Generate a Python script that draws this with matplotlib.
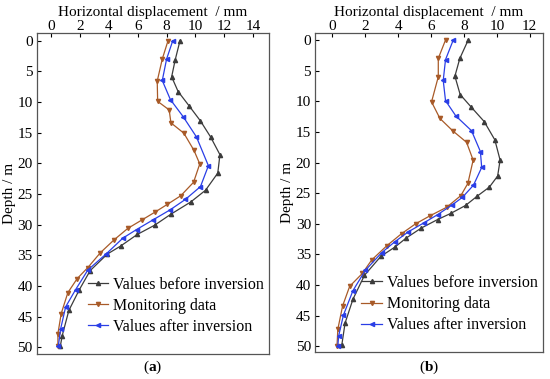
import matplotlib
matplotlib.use("Agg")
import matplotlib.pyplot as plt

# panel (a)
a_before_d = [0, 3.1, 5.9, 8.3, 10.6, 13.1, 15.7, 18.6, 21.6, 24.4, 26.3, 28.3, 30.1,
              31.6, 33.5, 34.8, 37.5, 40.6, 44.0, 48.1, 49.8]
a_before_x = [8.93, 8.6, 8.35, 8.8, 9.55, 10.35, 11.05, 11.7, 11.55, 10.7, 9.68, 8.3, 7.17,
              5.97, 4.81, 3.89, 2.7, 1.95, 1.22, 0.76, 0.63]
a_monitor_d = [0, 3.0, 6.6, 9.9, 11.3, 13.4, 15.1, 17.9, 20.1, 23.1, 25.3, 26.7, 28.0,
               29.2, 30.6, 32.5, 34.6, 37.0, 38.8, 41.1, 44.5, 47.8, 49.8]
a_monitor_x = [8.1, 7.7, 7.35, 7.38, 8.18, 8.3, 9.2, 9.9, 10.3, 9.87, 8.98, 8.05, 7.17,
               6.32, 5.32, 4.35, 3.4, 2.54, 1.8, 1.15, 0.69, 0.46, 0.46]
a_after_d = [0, 3.0, 6.5, 9.6, 12.4, 15.7, 20.4, 23.8, 25.9, 27.6, 29.2, 30.8, 32.2,
             34.8, 37.4, 40.6, 43.4, 47.0, 49.8]
a_after_x = [8.43, 8.0, 7.7, 8.26, 9.15, 10.07, 10.9, 10.35, 9.3, 8.24, 7.08, 5.92, 4.97,
             3.8, 2.54, 1.69, 1.0, 0.65, 0.49]

# panel (b)
b_before_d = [0, 3.0, 5.9, 8.9, 11.0, 13.3, 16.3, 19.6, 22.2, 24.0, 25.5, 27.0, 28.3,
              29.3, 30.7, 32.3, 33.8, 35.3, 38.4, 42.3, 46.2, 49.8]
b_before_x = [8.26, 7.75, 7.45, 7.77, 8.46, 9.23, 9.88, 10.2, 10.05, 9.55, 8.8, 8.1, 7.2,
              6.4, 5.4, 4.5, 3.8, 2.95, 1.95, 1.25, 0.77, 0.57]
b_monitor_d = [0, 3.0, 6.0, 10.1, 12.8, 14.8, 16.7, 19.6, 23.4, 25.4, 27.3, 28.7, 30.0,
               31.6, 33.6, 35.9, 38.1, 40.2, 43.4, 47.2, 49.9]
b_monitor_x = [6.88, 6.44, 6.44, 6.03, 6.54, 7.31, 8.16, 8.56, 8.24, 7.81, 6.95, 5.93, 5.06,
               4.21, 3.3, 2.39, 1.82, 1.05, 0.62, 0.33, 0.28]
b_after_d = [0, 3.2, 6.6, 9.9, 12.4, 14.8, 18.2, 20.8, 23.7, 25.7, 26.9, 28.5, 29.8,
             31.3, 32.9, 34.7, 37.6, 40.9, 44.9, 48.3, 49.9]
b_after_x = [7.35, 6.88, 6.74, 6.88, 7.51, 8.46, 9.0, 9.08, 8.58, 7.9, 7.29, 6.4, 5.59,
             4.62, 3.81, 3.0, 2.0, 1.25, 0.67, 0.38, 0.33]

labels = ["Values before inversion", "Monitoring data", "Values after inversion"]
colors = ["#3c3c3c", "#a85a28", "#2a3ee6"]
markers = ["^", "v", "<"]

plt.rcParams["font.family"] = ["Liberation Serif", "DejaVu Serif"]
plt.rcParams["mathtext.fontset"] = "custom"
plt.rcParams["mathtext.rm"] = "Liberation Serif"
plt.rcParams["mathtext.bf"] = "Liberation Serif:bold"
fs = 11

fig = plt.figure(figsize=(5.5, 3.79), dpi=100)
ax_a = fig.add_axes([0.067, 0.066, 0.422, 0.847])
ax_b = fig.add_axes([0.573, 0.070, 0.414, 0.843])

panels = [
    (ax_a, [(a_before_x, a_before_d), (a_monitor_x, a_monitor_d), (a_after_x, a_after_d)],
     (-1.0, 15.1), list(range(0, 15, 2)), (51.1, -1.25), "a"),
    (ax_b, [(b_before_x, b_before_d), (b_monitor_x, b_monitor_d), (b_after_x, b_after_d)],
     (-1.05, 12.8), list(range(0, 13, 2)), (51.0, -1.15), "b"),
]

for ax, series, xlim, xticks, ylim, tag in panels:
    for (xs, ds), lab, c, m in zip(series, labels, colors, markers):
        ax.plot(xs, ds, color=c, marker=m, markersize=3, linewidth=0.9, label=lab)
    ax.set_xlim(*xlim)
    ax.set_ylim(*ylim)
    ax.set_xticks(xticks)
    ax.set_yticks(range(0, 51, 5))
    ax.xaxis.tick_top()
    ax.xaxis.set_label_position("top")
    ax.tick_params(direction="in", labelsize=fs, length=3, width=0.8)
    ax.tick_params(axis="x", pad=0)
    ax.tick_params(axis="y", pad=3)
    ax.set_xlabel("Horizontal displacement  / mm", fontsize=fs, labelpad=3)
    ax.set_ylabel("Depth / m", fontsize=fs, labelpad=1)
    for s in ax.spines.values():
        s.set_color("#555555")
        s.set_linewidth(0.9)
    ax.legend(loc="lower right", bbox_to_anchor=(1.02, 0.03), frameon=False, fontsize=11.5,
              handlelength=1.3, handletextpad=0.3, labelspacing=0.32, borderaxespad=0.2)
    pos = ax.get_position()
    cx = (pos.x0 + pos.x1) / 2
    fig.text(cx, 0.03, r"($\mathbf{" + tag + "}$)", ha="center", va="center", fontsize=fs)

fig.savefig("out.png", dpi=100)
